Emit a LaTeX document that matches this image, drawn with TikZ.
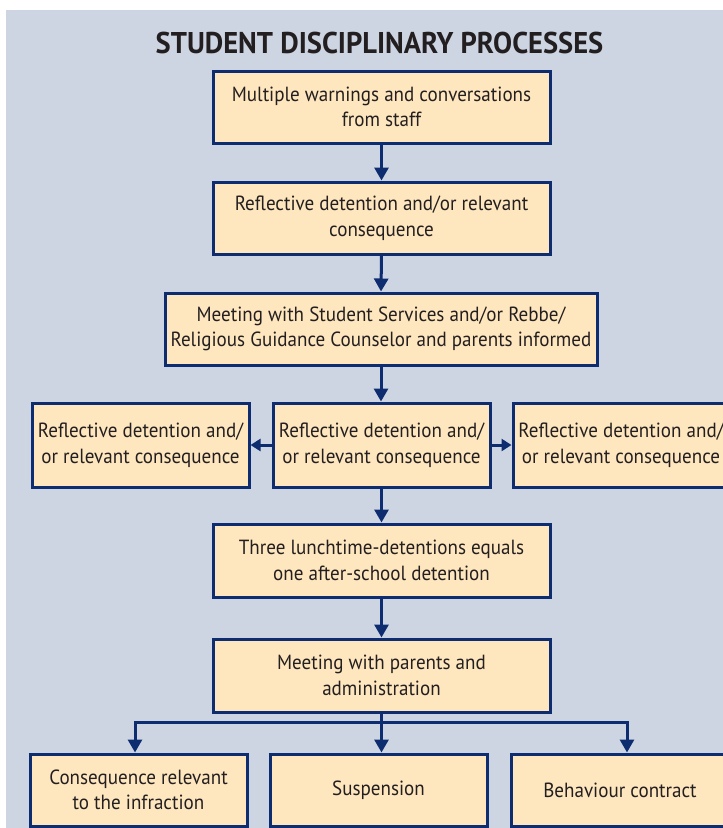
\documentclass[tikz,border=0pt]{standalone}
\usepackage{fontspec}
\setmainfont{PT Sans}
\newfontfamily\bodyfont[FakeStretch=0.93]{PT Sans}
\newfontfamily\titlefont[FakeStretch=0.95]{PT Sans}
\usetikzlibrary{arrows.meta}
\definecolor{bgc}{RGB}{205,213,227}
\definecolor{peach}{RGB}{254,230,190}
\definecolor{navy}{RGB}{14,44,112}
\definecolor{ink}{RGB}{35,31,32}
\begin{document}
\begin{tikzpicture}[x=1pt,y=1pt,
  box/.style={draw=navy, line width=3pt, fill=peach, align=center, inner sep=0pt, text=ink,
    font=\bodyfont\fontsize{20.5}{25.5}\selectfont},
  arr/.style={draw=navy, line width=3pt, -{Triangle[length=13pt,width=14pt]}},
  sarr/.style={draw=navy, line width=3pt, -{Triangle[length=10pt,width=12pt]}},
  conn/.style={draw=navy, line width=3pt},
  ttl/.style={font=\titlefont\bfseries\fontsize{30}{32}\selectfont, text=ink, inner sep=0pt}]
\clip (0,0) rectangle (723,-828);
\useasboundingbox (0,0) rectangle (723,-828);
\fill[bgc] (6,-10) rectangle (723,-828);
\node[ttl, anchor=base] (t) at (379.5,-53) {STUDENT DISCIPLINARY PROCESSES};
\node[box, minimum width=337pt, minimum height=72pt] (b1) at (381.5,-107) {Multiple warnings and conversations\\from staff};
\node[box, minimum width=337pt, minimum height=72pt] (b2) at (381.5,-218) {Reflective detention and/or relevant\\consequence};
\node[box, minimum width=432pt, minimum height=72pt] (b3) at (381,-329) {Meeting with Student Services and/or Rebbe/\\Religious Guidance Counselor and parents informed};
\node[box, minimum width=217pt, minimum height=84pt] (m1) at (140.5,-445) {Reflective detention and/\\or relevant consequence};
\node[box, minimum width=217pt, minimum height=84pt] (m2) at (381.5,-445) {Reflective detention and/\\or relevant consequence};
\node[box, minimum width=216pt, minimum height=84pt] (m3) at (621,-445) {Reflective detention and/\\or relevant consequence};
\node[box, minimum width=337pt, minimum height=73pt] (b5) at (381.5,-560.5) {Three lunchtime-detentions equals\\one after-school detention};
\node[box, minimum width=337pt, minimum height=73pt] (b6) at (381.5,-675.5) {Meeting with parents and\\administration};
\node[box, minimum width=217pt, minimum height=72pt] (c1) at (138.5,-790) {Consequence relevant\\to the infraction};
\node[box, minimum width=217pt, minimum height=72pt] (c2) at (378.5,-790) {Suspension};
\node[box, minimum width=218pt, minimum height=72pt] (c3) at (620,-790) {Behaviour contract};
\draw[arr] (b1.south) -- (b2.north);
\draw[arr] (b2.south) -- (b3.north);
\draw[arr] (b3.south) -- (b3.south |- m2.north);
\draw[sarr] (m2.west) -- (m1.east);
\draw[sarr] (m2.east) -- (m3.west);
\draw[arr] (m2.south) -- (b5.north);
\draw[arr] (b5.south) -- (b6.north);
\coordinate (j) at (381.5,-722);
\draw[conn] (b6.south) -- (j);
\draw[arr] (j) -| ([xshift=-3.5pt]c1.north);
\draw[arr] (j) -- (j |- c2.north);
\draw[arr] (j) -| ([xshift=7pt]c3.north);
\end{tikzpicture}
\end{document}
